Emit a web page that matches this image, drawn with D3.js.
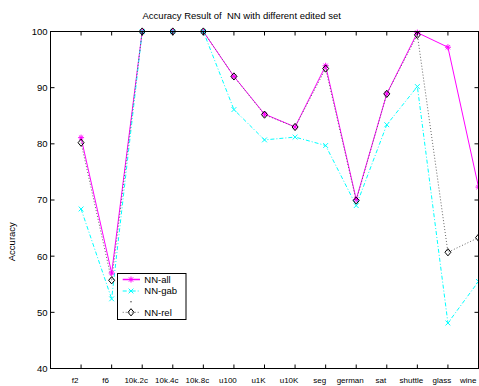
<!DOCTYPE html>
<html>
<head>
<meta charset="utf-8">
<script src="https://cdn.jsdelivr.net/npm/d3@7"></script>
<style>
  body { margin: 0; background: #fff; }
  svg { display: block; }
  text { font-family: "Liberation Sans", Arial, Helvetica, sans-serif; fill: #000; }
</style>
</head>
<body>
<svg id="chart" width="479" height="386"></svg>
<script>
// Data sets on the x axis
const datasets = ["f2", "f6", "10k.2c", "10k.4c", "10k.8c", "u100", "u1K", "u10K",
                  "seg", "german", "sat", "shuttle", "glass", "wine"];
// Accuracy (%) per edited set
const nnAll = [81.1, 57.0, 100, 100, 100, 92.0, 85.3, 83.0, 93.9, 70.1, 88.9, 99.8, 97.2, 72.3];
const nnGab = [68.4, 52.4, 100, 100, 100, 86.1, 80.7, 81.2, 79.7, 69.0, 83.4, 90.2, 48.1, 55.5];
const nnRel = [80.2, 55.7, 100, 100, 100, 92.0, 85.2, 83.0, 93.4, 69.9, 88.9, 99.4, 60.7, 63.3];
const yTicks = [40, 50, 60, 70, 80, 90, 100];
const seriesNames = ["NN-all", "NN-gab", "", "NN-rel"];

const W = 479;
const svg = d3.select("#chart");
const L = 50.5, R = 478.5, T = 31.5, B = 368.5;

const x = d3.scaleLinear().domain([0, datasets.length]).range([L, R]);
const y = d3.scaleLinear().domain([40, 100]).range([B, T]);
const xi = i => x(i + 1);

// Marker shapes
const star = r => {
  const d = r * Math.SQRT1_2;
  return `M${-r},0L${r},0M0,${-r}L0,${r}M${-d},${-d}L${d},${d}M${-d},${d}L${d},${-d}`;
};
const cross = r => `M${-r},${-r}L${r},${r}M${-r},${r}L${r},${-r}`;
const diamond = (w, h) => `M0,${-h}L${w},0L0,${h}L${-w},0Z`;

const line = d3.line().x((d, i) => xi(i)).y(d => y(d));

// Series styles
const styles = [
  { data: nnAll, color: "#ff00ff", dash: null, width: 1, marker: star(3), mColor: "#ff00ff" },
  { data: nnGab, color: "#00ffff", dash: "4,2,1,2", width: 1, marker: cross(2.4), mColor: "#00ffff" },
  { data: nnRel, color: "#666", dash: "1,2", width: 1, marker: diamond(3, 3.6), mColor: "#000" }
];

const plot = svg.append("g");
styles.forEach(s => {
  plot.append("path")
    .datum(s.data)
    .attr("d", line)
    .attr("fill", "none")
    .attr("stroke", s.color)
    .attr("stroke-width", s.width)
    .attr("stroke-dasharray", s.dash);
});
styles.forEach(s => {
  plot.selectAll(null)
    .data(s.data)
    .enter().append("path")
    .attr("transform", (d, i) => `translate(${xi(i)},${y(d)})`)
    .attr("d", s.marker)
    .attr("fill", "none")
    .attr("stroke", s.mColor)
    .attr("stroke-width", 1);
});

// Axes box with inward ticks
const tickLen = 4;
const axisG = svg.append("g");
axisG.append("rect")
  .attr("x", L).attr("y", T).attr("width", R - L).attr("height", B - T)
  .attr("fill", "none").attr("stroke", "#000").attr("stroke-width", 1);

const xTickIdx = d3.range(datasets.length);
axisG.selectAll(null).data(xTickIdx).enter().append("line")
  .attr("x1", i => xi(i)).attr("x2", i => xi(i))
  .attr("y1", B).attr("y2", B - tickLen)
  .attr("stroke", "#000");
axisG.selectAll(null).data(xTickIdx).enter().append("line")
  .attr("x1", i => xi(i)).attr("x2", i => xi(i))
  .attr("y1", T).attr("y2", T + tickLen)
  .attr("stroke", "#000");
axisG.selectAll(null).data(yTicks).enter().append("line")
  .attr("x1", L).attr("x2", L + tickLen)
  .attr("y1", d => y(d)).attr("y2", d => y(d))
  .attr("stroke", "#000");
axisG.selectAll(null).data(yTicks).enter().append("line")
  .attr("x1", R).attr("x2", R - tickLen)
  .attr("y1", d => y(d)).attr("y2", d => y(d))
  .attr("stroke", "#000");

// Tick labels
axisG.selectAll(null).data(yTicks).enter().append("text")
  .attr("x", L - 3).attr("y", d => y(d) + 3.4)
  .attr("text-anchor", "end")
  .style("font-size", "9.5px")
  .text(d => d);

axisG.selectAll(null).data(datasets).enter().append("text")
  .attr("x", (d, i) => xi(i) - 6).attr("y", 382.5)
  .attr("text-anchor", "middle")
  .style("font-size", "8px")
  .text(d => d)
  .each(function () {
    // keep the last label inside the canvas
    const bb = this.getBBox();
    const over = bb.x + bb.width - (W - 2);
    if (over > 0) d3.select(this).attr("x", +d3.select(this).attr("x") - over);
  });

// Title and axis label
svg.append("text")
  .attr("x", 241.7).attr("y", 19.3)
  .attr("text-anchor", "middle")
  .style("font-size", "9.5px")
  .style("white-space", "pre")
  .text("Accuracy Result of  NN with different edited set");

svg.append("text")
  .attr("transform", "translate(15.2,241.7) rotate(-90)")
  .attr("text-anchor", "middle")
  .style("font-size", "9.5px")
  .text("Accuracy");

// Legend
const lg = svg.append("g");
lg.append("rect")
  .attr("x", 117.5).attr("y", 273.5).attr("width", 68.5).attr("height", 46)
  .attr("fill", "#fff").attr("stroke", "#000").attr("stroke-width", 1);

const rowY = [279.5, 291, 301.7, 312.3];
const legendItems = [
  { name: seriesNames[0], s: styles[0] },
  { name: seriesNames[1], s: styles[1] },
  { name: seriesNames[2], s: null },
  { name: seriesNames[3], s: styles[2] }
];
legendItems.forEach((item, k) => {
  const yy = rowY[k];
  if (item.s) {
    lg.append("line")
      .attr("x1", 122.7).attr("x2", 140).attr("y1", yy).attr("y2", yy)
      .attr("stroke", item.s.color)
      .attr("stroke-width", item.s === styles[0] ? 1.5 : 1)
      .attr("stroke-dasharray", item.s.dash);
    lg.append("path")
      .attr("transform", `translate(131,${yy})`)
      .attr("d", item.s.marker)
      .attr("fill", "none").attr("stroke", item.s.mColor);
  } else {
    lg.append("circle")
      .attr("cx", 131).attr("cy", yy).attr("r", 0.7)
      .attr("fill", "#333");
  }
  if (item.name) {
    lg.append("text")
      .attr("x", 144.3).attr("y", yy + 3.4)
      .style("font-size", "9.5px")
      .text(item.name);
  }
});
</script>
</body>
</html>
